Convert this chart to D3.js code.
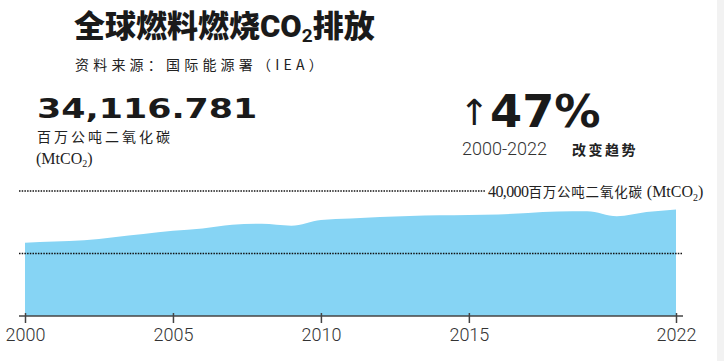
<!DOCTYPE html>
<html>
<head>
<meta charset="utf-8">
<script src="https://cdn.jsdelivr.net/npm/d3@7"></script>
<style>
  html, body { margin: 0; padding: 0; background: #fff; }
  svg { display: block; }
  .cjk { font-family: "Noto Sans CJK SC", "Noto Sans", sans-serif; }
  .axis text { font-family: Roboto, "Noto Sans", sans-serif; font-weight: 300; font-size: 18px; fill: #333; }
  .axis path, .axis line { stroke: #444; stroke-width: 1.5; }
</style>
</head>
<body>
<div id="chart"></div>
<script>
// data: fuel-combustion CO2, MtCO2 (IEA)
const years = [2000, 2001, 2002, 2003, 2004, 2005, 2006, 2007, 2008, 2009, 2010, 2011,
               2012, 2013, 2014, 2015, 2016, 2017, 2018, 2019, 2020, 2021, 2022];
const emissions = [23460, 23840, 24220, 25220, 26240, 27260, 28000, 29220, 29500, 28900, 30720, 31200,
                   31680, 32000, 32220, 32320, 32480, 32960, 33440, 33500, 31900, 33280, 34117];
const tickYears = [2000, 2005, 2010, 2015, 2022];
const refLines = [20000, 40000];
const latestValue = "34,116.781";
const changePct = "47%";
const changePeriod = "2000-2022";

const W = 724, H = 361;
const svg = d3.select("#chart").append("svg").attr("width", W).attr("height", H);

const x = d3.scaleLinear().domain([2000, 2022]).range([25, 676]);
const y = d3.scaleLinear().domain([0, 40000]).range([316, 191]);

const data = years.map((yr, i) => ({ year: yr, value: emissions[i] }));

// faint strip on right edge
svg.append("rect").attr("x", 717).attr("y", 0).attr("width", 7).attr("height", H).attr("fill", "#f2f2f2");

// area
const area = d3.area()
    .x(d => x(d.year))
    .y0(y(0))
    .y1(d => y(d.value))
    .curve(d3.curveMonotoneX);
svg.append("path").datum(data).attr("d", area).attr("fill", "#86d4f4");

// dotted reference lines
svg.selectAll("line.ref").data(refLines).enter().append("line")
    .attr("class", "ref")
    .attr("x1", 19)
    .attr("x2", d => d === 40000 ? 486 : 683)
    .attr("y1", d => y(d)).attr("y2", d => y(d))
    .attr("stroke", "#111").attr("stroke-width", 1.6)
    .attr("stroke-dasharray", "1.5,1.2");

// label for the 40,000 line
const refLabel = svg.append("text")
    .attr("x", 488).attr("y", y(40000) + 6)
    .attr("fill", "#222");
refLabel.append("tspan").attr("font-family", "Liberation Serif, serif").attr("font-size", 16)
    .attr("letter-spacing", -0.6).text("40,000");
refLabel.append("tspan").attr("class", "cjk").attr("font-size", 13.5).attr("letter-spacing", 0.8).text("百万公吨二氧化碳");
refLabel.append("tspan").attr("font-family", "Liberation Serif, serif").attr("font-size", 16)
    .attr("dx", 4).text("(MtCO");
refLabel.append("tspan").attr("font-family", "Liberation Serif, serif").attr("font-size", 10)
    .attr("dy", 4).text("2");
refLabel.append("tspan").attr("font-family", "Liberation Serif, serif").attr("font-size", 16)
    .attr("dy", -4).text(")");

// x axis
const axis = svg.append("g").attr("class", "axis")
    .attr("transform", `translate(0,${y(0)})`)
    .call(d3.axisBottom(x).tickValues(tickYears).tickFormat(d3.format("d")).tickSizeInner(7).tickSizeOuter(0).tickPadding(5));
axis.select(".domain").attr("d", `M19,0H683`);
axis.selectAll(".tick line").attr("y1", -3);

// title
const title = svg.append("text").attr("class", "cjk")
    .attr("x", 74).attr("y", 37)
    .attr("font-size", 31).attr("font-weight", 900).attr("fill", "#1a1a1a");
title.append("tspan").text("全球燃料燃烧");
title.append("tspan").attr("font-family", "Roboto, sans-serif").attr("font-weight", 900).text("CO");
title.append("tspan").attr("font-family", "Roboto, sans-serif").attr("font-weight", 700)
    .attr("font-size", 19).attr("dy", 5).text("2");
title.append("tspan").attr("dy", -5).text("排放");

svg.append("text").attr("class", "cjk")
    .attr("x", 75).attr("y", 70)
    .attr("font-size", 14).attr("letter-spacing", 4.2).attr("fill", "#222")
    .text("资料来源：国际能源署（IEA）");

// big number
svg.append("text")
    .attr("transform", "translate(37,118) scale(1.29,1)")
    .attr("font-family", "DejaVu Sans, sans-serif").attr("font-weight", 900)
    .attr("font-size", 27).attr("fill", "#1a1a1a")
    .text(latestValue);

svg.append("text").attr("class", "cjk")
    .attr("x", 37).attr("y", 142)
    .attr("font-size", 14).attr("letter-spacing", 3).attr("fill", "#222")
    .text("百万公吨二氧化碳");

const unit = svg.append("text").attr("x", 36).attr("y", 164)
    .attr("font-family", "Liberation Serif, serif").attr("font-size", 16).attr("fill", "#222");
unit.append("tspan").text("(MtCO");
unit.append("tspan").attr("font-size", 10).attr("dy", 3).text("2");
unit.append("tspan").attr("dy", -3).text(")");

// change indicator
svg.append("text")
    .attr("x", 459).attr("y", 125)
    .attr("font-family", "DejaVu Sans, sans-serif").attr("font-size", 36).attr("fill", "#1a1a1a")
    .text("↑");
svg.append("text")
    .attr("transform", "translate(490,127) scale(1.05,1)")
    .attr("font-family", "DejaVu Sans, sans-serif").attr("font-weight", 900)
    .attr("font-size", 44).attr("fill", "#1a1a1a")
    .text(changePct);

svg.append("text")
    .attr("x", 462).attr("y", 155)
    .attr("font-family", "Roboto, sans-serif").attr("font-weight", 300)
    .attr("font-size", 18).attr("fill", "#333")
    .text(changePeriod);
svg.append("text").attr("class", "cjk")
    .attr("x", 572).attr("y", 155)
    .attr("font-size", 14).attr("font-weight", 700).attr("letter-spacing", 2.5).attr("fill", "#222")
    .text("改变趋势");
</script>
</body>
</html>
